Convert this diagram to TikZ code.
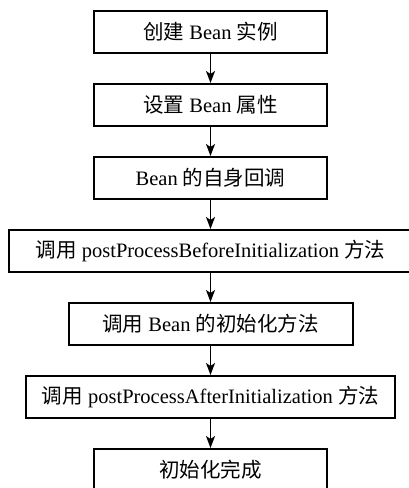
\documentclass[tikz,border=0pt]{standalone}
\usepackage{fontspec}
\setmainfont{Liberation Serif}
\newfontfamily\cjk{Noto Sans CJK SC}
\newcommand{\zh}[1]{{\cjk #1}}
\usetikzlibrary{
  positioning,
  arrows.meta
}

\begin{document}
\begin{tikzpicture}[x = 1pt, y = 1pt, node distance = 29pt,
    box/.style = {draw, line width = 2pt, minimum height = 42pt, inner sep = 0pt,
      font = \fontsize{20.5}{24}\selectfont},
    flow/.style = {-{Stealth[length = 12pt, width = 9pt, inset = 3pt]}, line width = 1.6pt}]
    \useasboundingbox (0,0) rectangle (408,-488);

    \node[box, minimum width = 233pt] (create) at (210.5,-32) {\zh{创建} Bean \zh{实例}};
    \node[box, minimum width = 233pt, below = of create] (props) {\zh{设置} Bean \zh{属性}};
    \node[box, minimum width = 233pt, below = of props] (aware) {Bean \zh{的自身回调}};
    \node[box, minimum width = 404pt, below = of aware] (before) {\zh{调用} postProcessBeforeInitialization \zh{方法}};
    \node[box, minimum width = 284pt, below = of before] (init) {\zh{调用} Bean \zh{的初始化方法}};
    \node[box, minimum width = 369pt, below = of init] (after) {\zh{调用} postProcessAfterInitialization \zh{方法}};
    \node[box, minimum width = 233pt, below = of after] (done) {\zh{初始化完成}};

    \draw[flow] (create) -- (props);
    \draw[flow] (props) -- (aware);
    \draw[flow] (aware) -- (before);
    \draw[flow] (before) -- (init);
    \draw[flow] (init) -- (after);
    \draw[flow] (after) -- (done);
  \end{tikzpicture}
\end{document}
